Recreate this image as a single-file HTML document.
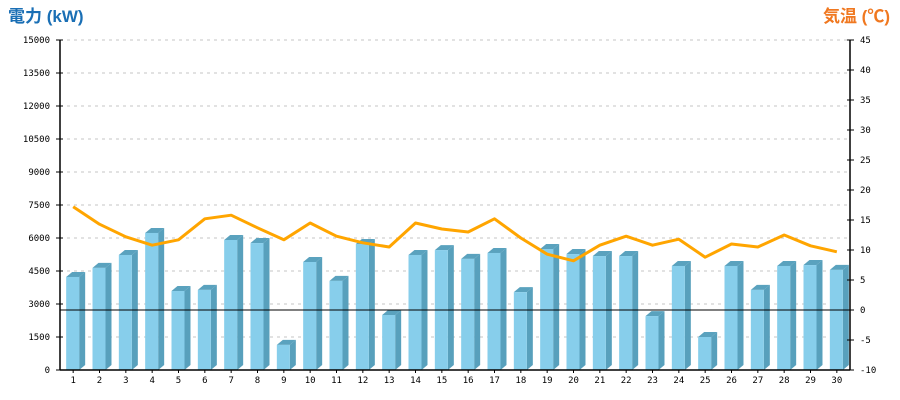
<!DOCTYPE html>
<html><head><meta charset="utf-8"><style>
html,body{margin:0;padding:0;background:#fff;width:900px;height:400px;overflow:hidden}
svg text{font-family:"DejaVu Sans Mono","Liberation Mono",monospace}
</style></head><body>
<svg id="chart" width="900" height="400" xmlns="http://www.w3.org/2000/svg">
<text x="8" y="22" font-size="17" font-weight="bold" fill="#1a6fb5" style="font-family:'Liberation Sans','Noto Sans CJK JP',sans-serif">電力 (kW)</text>
<text x="890" y="22" text-anchor="end" font-size="17" font-weight="bold" fill="#f07820" style="font-family:'Liberation Sans','Noto Sans CJK JP',sans-serif">気温 (℃)</text>
<g id="grid"></g><g id="bars"></g><g id="line"></g><g id="axes"></g>
</svg>
<script>
const days=[1,2,3,4,5,6,7,8,9,10,11,12,13,14,15,16,17,18,19,20,21,22,23,24,25,26,27,28,29,30];
const power=[4230,4640,5230,6230,3590,3640,5910,5770,1140,4910,4050,5730,2500,5230,5450,5050,5320,3540,5500,5270,5180,5180,2450,4730,1500,4730,3640,4730,4770,4550];
const temp=[17.2,14.3,12.2,10.8,11.7,15.2,15.8,13.7,11.7,14.5,12.3,11.2,10.5,14.5,13.5,13.0,15.2,12.0,9.3,8.2,10.8,12.3,10.8,11.8,8.8,11.0,10.5,12.5,10.7,9.7];
const leftTicks=[0,1500,3000,4500,6000,7500,9000,10500,12000,13500,15000];
const rightTicks=[-10,-5,0,5,10,15,20,25,30,35,40,45];
const NS="http://www.w3.org/2000/svg";
const X0=60,X1=850,Y0=370,Y1=40;
const xc=i=>X0+(X1-X0)/days.length*(i+0.5);
const yL=v=>Y0-(v/15000)*(Y0-Y1);
const yR=v=>Y0-((v+10)/55)*(Y0-Y1);
function mk(p,t,a){const e=document.createElementNS(NS,t);for(const k in a)e.setAttribute(k,a[k]);p.appendChild(e);return e;}
const grid=document.getElementById('grid'),bars=document.getElementById('bars'),line=document.getElementById('line'),axes=document.getElementById('axes');
leftTicks.forEach(v=>{if(v>0){const g=mk(grid,'line',{x1:X0,x2:X1,y1:yL(v),y2:yL(v),stroke:'#c4c4c4','stroke-dasharray':'3,4'});

}
mk(axes,'line',{x1:X0-4,x2:X0+3,y1:yL(v),y2:yL(v),stroke:'#000'});
const t=mk(axes,'text',{x:X0-10,y:yL(v)+3,'text-anchor':'end','font-size':'9',fill:'#000'});t.textContent=v;

});
rightTicks.forEach(v=>{mk(axes,'line',{x1:X1-3,x2:X1+4,y1:yR(v),y2:yR(v),stroke:'#000'});
const t=mk(axes,'text',{x:X1+10,y:yR(v)+3,'font-size':'9',fill:'#000'});t.textContent=v;

});
const bw=13,d=6;
power.forEach((v,i)=>{const x=xc(i)-7,y=yL(v);const g=mk(bars,'g',{});


mk(g,'polygon',{points:`${x+bw},${y} ${x+bw+d},${y-5} ${x+bw+d},${Y0-5} ${x+bw},${Y0}`,fill:'#58a0bc'});
mk(g,'polygon',{points:`${x},${y} ${x+d},${y-5} ${x+bw+d},${y-5} ${x+bw},${y}`,fill:'#5aa2be'});
mk(g,'rect',{x:x,y:y,width:bw,height:Y0-y,fill:'#87ceeb'});
const t=mk(axes,'text',{x:xc(i),y:Y0+13,'text-anchor':'middle','font-size':'9',fill:'#000'});t.textContent=days[i];


mk(axes,'line',{x1:xc(i),x2:xc(i),y1:Y0,y2:Y0+3,stroke:'#000'});});
const zl=mk(axes,'line',{x1:X0,x2:X1,y1:yR(0),y2:yR(0),stroke:'#000','stroke-width':'1'});


const pl=mk(line,'polyline',{points:temp.map((v,i)=>xc(i)+','+yR(v)).join(' '),fill:'none',stroke:'#ffa500','stroke-width':'3','stroke-linejoin':'round'});


const la=mk(axes,'line',{x1:X0,x2:X0,y1:Y1,y2:Y0,stroke:'#000','stroke-width':'1.5'});


const ra=mk(axes,'line',{x1:X1,x2:X1,y1:Y1,y2:Y0,stroke:'#000','stroke-width':'1.5'});


const xa=mk(axes,'line',{x1:X0,x2:X1,y1:Y0,y2:Y0,stroke:'#000','stroke-width':'1.5'});


</script>
</body></html>
